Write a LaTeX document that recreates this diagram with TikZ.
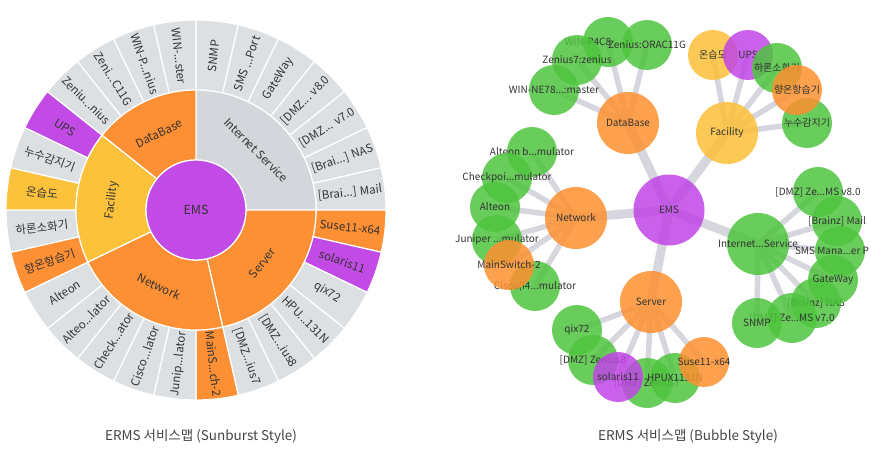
\documentclass[tikz,border=0pt]{standalone}
\usepackage{fontspec}
\setmainfont{Noto Sans CJK KR}
\usepackage{tikz}
\usetikzlibrary{backgrounds}

\definecolor{sbPurple}{HTML}{C24BE6}
\definecolor{sbOrange}{HTML}{FD8F34}
\definecolor{sbYellow}{HTML}{FDC23B}
\definecolor{sbGrey}{HTML}{DDE0E3}
\definecolor{sbGreyDark}{HTML}{D3D6DA}
\definecolor{bbGreen}{HTML}{4EC43E}
\definecolor{bbOrange}{HTML}{FD9030}
\definecolor{bbYellow}{HTML}{FDC038}
\definecolor{bbPurple}{HTML}{C045E6}
\definecolor{linkGrey}{HTML}{D6D6DE}
\definecolor{txtGrey}{HTML}{333333}
\definecolor{capGrey}{HTML}{444444}

\begin{document}
\begin{tikzpicture}[x=1pt, y=-1pt,
  sep/.style={draw=white, line width=1.2pt},
  sblabel/.style={text=txtGrey, font=\fontsize{11.5}{13}\selectfont, inner sep=0pt},
  bub/.style={circle, inner sep=0pt, minimum size=50pt, fill opacity=0.85, text opacity=1, text=txtGrey, font=\fontsize{10}{12}\selectfont},
  cat/.style={bub, minimum size=62pt},
  trunk/.style={draw=linkGrey, line width=9pt},
  branch/.style={draw=linkGrey, line width=5.5pt},
  caption/.style={text=capGrey, font=\fontsize{13.5}{15}\selectfont}]

\useasboundingbox (0,0) rectangle (871,452);

\begin{scope}[shift={(196,210)}]
  \foreach \i/\c/\t in {0/sbGrey/{SNMP}, 1/sbGrey/{SMS ...Port}, 2/sbGrey/{GateWay}, 3/sbGrey/{[DMZ... v8.0},
      4/sbGrey/{[DMZ... v7.0}, 5/sbGrey/{[Brai...] NAS}, 6/sbGrey/{[Brai...] Mail}, 7/sbOrange/{Suse11-x64},
      8/sbPurple/{solaris11}, 9/sbGrey/{qix72}, 10/sbGrey/{HPU...131N}, 11/sbGrey/{[DMZ...ius8}, 12/sbGrey/{[DMZ...ius7},
      13/sbOrange/{MainS...ch-2}, 14/sbGrey/{Junip...lator}, 15/sbGrey/{Cisco...lator}, 16/sbGrey/{Check...ator},
      17/sbGrey/{Alteo...lator}, 18/sbGrey/{Alteon}, 19/sbOrange/{향온항습기}, 20/sbGrey/{하론소화기},
      21/sbYellow/{온습도}, 22/sbGrey/{누수감지기}, 23/sbPurple/{UPS}, 24/sbGrey/{Zeniu...nius},
      25/sbGrey/{Zeni...C11G}, 26/sbGrey/{WIN-P...nius}, 27/sbGrey/{WIN-...ster}} {
    \pgfmathsetmacro{\a}{90-\i*360/28}
    \pgfmathsetmacro{\b}{\a-360/28}
    \pgfmathsetmacro{\m}{\a-180/28}
    \pgfmathsetmacro{\r}{cos(\m)<0 ? \m+180 : \m}
    \filldraw[fill=\c, sep] (\a:120pt) arc[start angle=\a, end angle=\b, radius=120pt]
      -- (\b:190pt) arc[start angle=\b, end angle=\a, radius=190pt] -- cycle;
    \node[sblabel, rotate=\r] (leaf\i) at (\m:155pt) {\t};
  }
  \foreach \p/\q/\c/\t/\r in {0/7/sbGreyDark/{Internet Service}/-45, 7/13/sbOrange/{Server}/51.43,
      13/19/sbOrange/{Network}/-25.71, 19/24/sbYellow/{Facility}/83.57, 24/28/sbOrange/{DataBase}/25.71} {
    \pgfmathsetmacro{\a}{90-\p*360/28}
    \pgfmathsetmacro{\b}{90-\q*360/28}
    \pgfmathsetmacro{\m}{(\a+\b)/2}
    \filldraw[fill=\c, sep] (\a:50pt) arc[start angle=\a, end angle=\b, radius=50pt]
      -- (\b:120pt) arc[start angle=\b, end angle=\a, radius=120pt] -- cycle;
    \node[sblabel, rotate=\r] (grp\p) at (\m:85pt) {\t};
  }
  \filldraw[fill=sbPurple, sep] (0,0) circle (50pt);
  \node[sblabel, font=\fontsize{12.5}{14}\selectfont] (sbems) at (0,0) {EMS};
\end{scope}

\node[bub, fill=bbGreen] (winp) at (608,42) {\makebox[0pt]{WIN-P4C8\hspace{40pt}}};
\node[bub, fill=bbGreen] (orac) at (647,45) {\makebox[0pt]{Zenius:ORAC11G}};
\node[bub, fill=bbGreen] (winne) at (554,90) {\makebox[0pt]{WIN-NE78...:master}};
\node[bub, fill=bbGreen] (zen7) at (577,60) {\makebox[0pt]{Zenius7:zenius}};
\node[cat, fill=bbOrange] (db) at (628,123) {\makebox[0pt]{DataBase}};

\node[bub, fill=bbYellow] (onsup) at (713,55) {\makebox[0pt]{온습도}};
\node[bub, fill=bbPurple] (ups) at (748,55) {\makebox[0pt]{UPS}};
\node[bub, fill=bbGreen] (halon) at (777,68) {\makebox[0pt]{하론소화기}};
\node[bub, fill=bbGreen] (leak) at (807,123) {\makebox[0pt]{누수감지기}};
\node[bub, fill=bbOrange] (hvac) at (797,90) {\makebox[0pt]{향온항습기}};
\node[cat, fill=bbYellow] (fac) at (727,133) {\makebox[0pt]{Facility}};

\node[bub, fill=bbGreen] (altb) at (532,152) {\makebox[0pt]{Alteon b...mulator}};
\node[bub, fill=bbGreen] (chkp) at (507,178) {\makebox[0pt]{Checkpoi...mulator}};
\node[bub, fill=bbGreen] (alt) at (495,207) {\makebox[0pt]{Alteon}};
\node[bub, fill=bbGreen] (junp) at (497,240) {\makebox[0pt]{Juniper ...mulator}};
\node[bub, fill=bbGreen] (cisco) at (535,286) {\makebox[0pt]{Cisco(I4...mulator}};
\node[bub, fill=bbOrange] (msw) at (509,265) {\makebox[0pt]{MainSwitch-2}};
\node[cat, fill=bbOrange] (net) at (576,218) {\makebox[0pt]{Network}};

\node[bub, fill=bbGreen] (qix) at (577,330) {\makebox[0pt]{qix72}};
\node[bub, fill=bbGreen] (dmz8) at (593,360) {\makebox[0pt]{[DMZ] Zenius8}};
\node[bub, fill=bbGreen] (dmz7) at (647,383) {\makebox[0pt]{[DMZ] Zenius7}};
\node[bub, fill=bbPurple] (sol) at (618,377) {\makebox[0pt]{solaris11}};
\node[bub, fill=bbGreen] (hpux) at (675,378) {\makebox[0pt]{HPUX1131N}};
\node[bub, fill=bbOrange] (suse) at (704,362) {\makebox[0pt]{Suse11-x64}};
\node[cat, fill=bbOrange] (srv) at (651,302) {\makebox[0pt]{Server}};

\node[bub, fill=bbGreen] (v80) at (818,192) {\makebox[0pt]{[DMZ] Ze...MS v8.0}};
\node[bub, fill=bbGreen] (mail) at (837,221) {\makebox[0pt]{[Brainz] Mail}};
\node[bub, fill=bbGreen] (sms) at (840,251) {\makebox[0pt][l]{\hspace{-45pt}SMS Mana...er P}};
\node[bub, fill=bbGreen] (nas) at (816,303) {\makebox[0pt]{[Brainz] NAS}};
\node[bub, fill=bbGreen] (gw) at (833,280) {\makebox[0pt]{GateWay}};
\node[bub, fill=bbGreen] (v70) at (792,318) {\makebox[0pt]{[DMZ] Ze...MS v7.0}};
\node[bub, fill=bbGreen] (snmp) at (757,323) {\makebox[0pt]{SNMP}};
\node[cat, fill=bbGreen] (inet) at (758,244) {\makebox[0pt]{Internet...Service}};

\node[bub, minimum size=71pt, fill=bbPurple] (ems) at (669,210) {\makebox[0pt]{EMS}};

\begin{pgfonlayer}{background}
  \foreach \n in {db,fac,net,srv,inet} \draw[trunk] (ems.center) -- (\n.center);
  \foreach \n in {winp,orac,winne,zen7} \draw[branch] (db.center) -- (\n.center);
  \foreach \n in {onsup,ups,halon,leak,hvac} \draw[branch] (fac.center) -- (\n.center);
  \foreach \n in {altb,chkp,alt,junp,cisco,msw} \draw[branch] (net.center) -- (\n.center);
  \foreach \n in {qix,dmz8,dmz7,sol,hpux,suse} \draw[branch] (srv.center) -- (\n.center);
  \foreach \n in {v80,mail,sms,nas,gw,v70,snmp} \draw[branch] (inet.center) -- (\n.center);
\end{pgfonlayer}

\node[caption] (capsun) at (201,436) {ERMS 서비스맵 (Sunburst Style)};
\node[caption] (capbub) at (688,436) {ERMS 서비스맵 (Bubble Style)};
\end{tikzpicture}
\end{document}
